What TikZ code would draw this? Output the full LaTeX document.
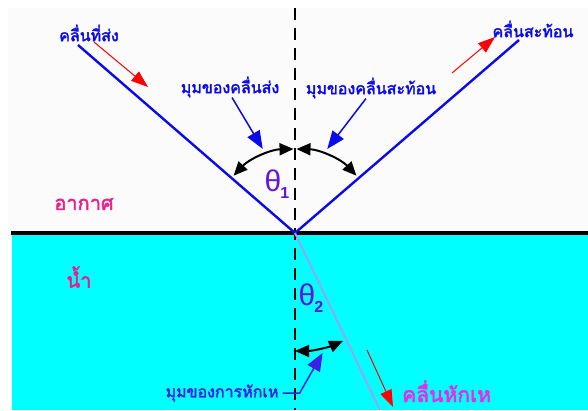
\documentclass[tikz,border=0pt]{standalone}
\usepackage{fontspec}
\newfontfamily\thaifont[Script=Thai,AutoFakeBold=2.2]{Loma}
\newfontfamily\grkfont{Liberation Sans}
\usetikzlibrary{arrows.meta}
\definecolor{airGrey}{RGB}{251,251,251}
\definecolor{waterCyan}{RGB}{0,255,255}
\definecolor{rayBlue}{RGB}{10,10,235}
\definecolor{refrBlue}{RGB}{150,165,240}
\definecolor{mediumPink}{RGB}{235,30,140}
\definecolor{refrMagenta}{RGB}{235,40,235}
\definecolor{thetaViolet}{RGB}{100,20,220}
\definecolor{labelViolet}{RGB}{60,30,230}

\begin{document}
\begin{tikzpicture}[x=1pt,y=1pt,
  ray/.style={rayBlue, line width=2.4pt},
  normal/.style={black, line width=2pt, dash pattern=on 12pt off 8pt},
  dirarr/.style={-{Triangle[length=17pt,width=12pt]}, red, line width=1pt},
  angarr/.style={{Triangle[length=14pt,width=12pt]}-{Triangle[length=14pt,width=12pt]}, line width=2pt},
  ptr/.style={-{Triangle[length=18pt,width=14pt]}, rayBlue, line width=1.5pt},
  lbl/.style={font=\thaifont\bfseries\fontsize{16}{18}\selectfont, text=rayBlue, inner sep=0pt},
  medium/.style={font=\thaifont\bfseries\fontsize{20}{22}\selectfont, text=mediumPink, inner sep=0pt},
  theta/.style={font=\grkfont\fontsize{30}{30}\selectfont, text=thetaViolet, inner sep=0pt}
]
\useasboundingbox (0,0) rectangle (588,410);

% air and water
\fill[airGrey] (8,177) rectangle (588,402);
\fill[waterCyan] (12,0) rectangle (588,176);
\draw[line width=3.5pt] (11,177) -- (588,177);

\coordinate (O) at (295,177);
\coordinate (top) at (295,402);
\coordinate (bottom) at (295,0);
\coordinate (inc) at (78,365);
\coordinate (refl) at (519,370);
\coordinate (refr) at (380,0);

\draw[normal] (top) -- (bottom);

% rays
\draw[ray] (inc) -- (O) -- (refl);
\draw[refrBlue, line width=2pt] (O) -- (refr);

% direction arrows
\draw[dirarr] (94,368) -- (148,323);
\draw[dirarr] (452,337) -- (495,373);
\draw[dirarr] (367,60) -- (393,3);

% angles
\draw[angarr] ([shift={(137:84)}]O) arc[start angle=137, end angle=91, radius=84];
\draw[angarr] ([shift={(89:84)}]O) arc[start angle=89, end angle=43, radius=84];
\draw[angarr] ([shift={(-90:118)}]O) arc[start angle=-90, end angle=-66, radius=118];

\node[theta] (th1) at (277,226) {θ\kern-1pt\raisebox{-7pt}{\bfseries\fontsize{16}{16}\selectfont 1}};
\node[theta] (th2) at (311,112) {θ\kern-1pt\raisebox{-7pt}{\bfseries\fontsize{16}{16}\selectfont 2}};

% labels
\node[lbl] (incLbl) at (89,377) {คลื่นที่ส่ง};
\node[lbl] (reflLbl) at (533,381) {คลื่นสะท้อน};
\node[lbl] (angInc) at (230,323) {มุมของคลื่นส่ง};
\node[lbl] (angRefl) at (371,322) {มุมของคลื่นสะท้อน};
\node[lbl, text=labelViolet] (angRefr) at (222,17) {มุมของการหักเห};
\node[medium] (air) at (84,206) {อากาศ};
\node[medium] (water) at (79,133) {น้ำ};
\node[medium, text=refrMagenta, font=\thaifont\bfseries\fontsize{21}{23}\selectfont,
  text depth=0pt, anchor=base west] (refrLbl) at (402,8) {คลื่นหักเห};

% pointers
\draw[ptr] ([xshift=2pt]angInc.south) -- ([shift={(111:90)}]O);
\draw[ptr] ([xshift=-5pt]angRefl.south) -- ([shift={(69:90)}]O);
\draw[ptr, labelViolet] ([xshift=4pt]angRefr.east) -- ++(17,0) -- ([shift={(-77:123)}]O);

\end{tikzpicture}
\end{document}
